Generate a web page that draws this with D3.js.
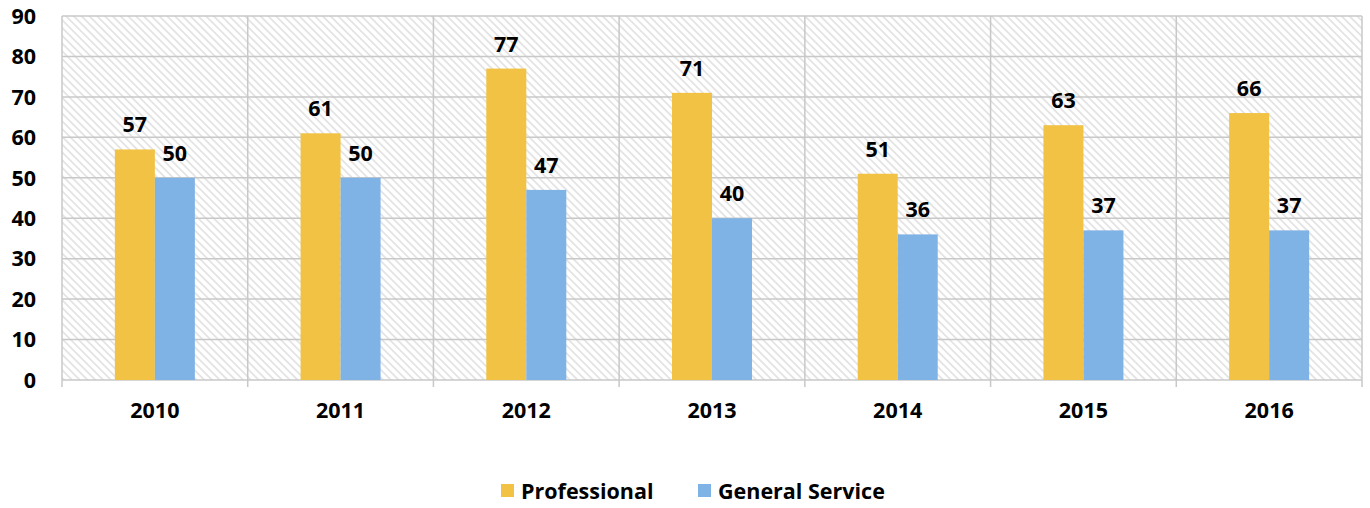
<!DOCTYPE html>
<html>
<head>
<meta charset="utf-8">
<script src="https://cdn.jsdelivr.net/npm/d3@7"></script>
<style>
  body { margin: 0; background: #fff; }
  svg text { font-family: "Open Sans", "Liberation Sans", Arial, sans-serif; font-weight: bold; fill: #000; }
</style>
</head>
<body>
<svg id="chart" width="1370" height="508"></svg>
<script>
// bar chart, two series per year

var years = ["2010", "2011", "2012", "2013", "2014", "2015", "2016"];
var professional = [57, 61, 77, 71, 51, 63, 66];
var generalService = [50, 50, 47, 40, 36, 37, 37];
var seriesNames = ["Professional", "General Service"];
var seriesColors = ["#F1C244", "#7FB2E5"];
var yTicks = [0, 10, 20, 30, 40, 50, 60, 70, 80, 90];

var svg = d3.select("#chart");
var margin = {top: 16, right: 8, bottom: 128, left: 62};
var width = 1370 - margin.left - margin.right;
var height = 508 - margin.top - margin.bottom;
var fs = "21.5px";

// hatch pattern for the plot background
var defs = svg.append("defs");
var pat = defs.append("pattern")
    .attr("id", "hatch")
    .attr("patternUnits", "userSpaceOnUse")
    .attr("width", 5.5).attr("height", 5.5)
    .attr("patternTransform", "rotate(45)");
pat.append("rect").attr("width", 5.5).attr("height", 5.5).attr("fill", "#fff");
pat.append("line")
    .attr("x1", 0).attr("y1", 2.75).attr("x2", 5.5).attr("y2", 2.75)
    .attr("stroke", "#d6d6d6").attr("stroke-width", 1.2);

var g = svg.append("g").attr("transform", "translate(" + margin.left + "," + margin.top + ")");

var x = d3.scaleBand().domain(years).range([0, width]);
var y = d3.scaleLinear().domain([0, 90]).range([height, 0]);
var bw = 40;

g.append("rect")
    .attr("width", width).attr("height", height)
    .attr("fill", "url(#hatch)");

// horizontal grid
g.selectAll(".hgrid")
  .data(yTicks)
  .enter().append("line")
    .attr("x1", 0).attr("x2", width)
    .attr("y1", function(d) { return y(d); })
    .attr("y2", function(d) { return y(d); })
    .attr("stroke", "#c8c8c8").attr("stroke-width", 1.5);

// vertical grid at category edges
var edges = years.map(function(d) { return x(d); }).concat([width]);
g.selectAll(".vgrid")
  .data(edges)
  .enter().append("line")
    .attr("x1", function(d) { return d; }).attr("x2", function(d) { return d; })
    .attr("y1", 0).attr("y2", height + 7)
    .attr("stroke", "#c8c8c8").attr("stroke-width", 1.5);

// y labels
g.selectAll(".ylab")
  .data(yTicks)
  .enter().append("text")
    .attr("x", -26)
    .attr("y", function(d) { return y(d); })
    .attr("dy", "0.36em")
    .attr("text-anchor", "end")
    .style("font-size", fs)
    .text(function(d) { return d; });

// x labels
g.selectAll(".xlab")
  .data(years)
  .enter().append("text")
    .attr("x", function(d) { return x(d) + x.bandwidth() / 2; })
    .attr("y", height + 38)
    .attr("text-anchor", "middle")
    .style("font-size", fs)
    .text(function(d) { return d; });

var series = [professional, generalService];
series.forEach(function(vals, si) {
  var off = si == 0 ? -bw : 0;
  g.selectAll(".bar" + si)
    .data(vals)
    .enter().append("rect")
      .attr("x", function(d, i) { return x(years[i]) + x.bandwidth() / 2 + off; })
      .attr("y", function(d) { return y(d); })
      .attr("width", bw)
      .attr("height", function(d) { return height - y(d); })
      .attr("fill", seriesColors[si]);

  g.selectAll(".lab" + si)
    .data(vals)
    .enter().append("text")
      .attr("x", function(d, i) { return x(years[i]) + x.bandwidth() / 2 + off + bw / 2; })
      .attr("y", function(d) { return y(d) - 17; })
      .attr("text-anchor", "middle")
      .style("font-size", fs)
      .text(function(d) { return d; });
});

// legend
var legend = svg.append("g");
var lx = [501, 698];
seriesNames.forEach(function(n, i) {
  legend.append("rect")
    .attr("x", lx[i]).attr("y", 484)
    .attr("width", 13).attr("height", 13)
    .attr("fill", seriesColors[i]);
  legend.append("text")
    .attr("x", lx[i] + 20).attr("y", 499)
    .style("font-size", fs)
    .text(n);
});
</script>
</body>
</html>
